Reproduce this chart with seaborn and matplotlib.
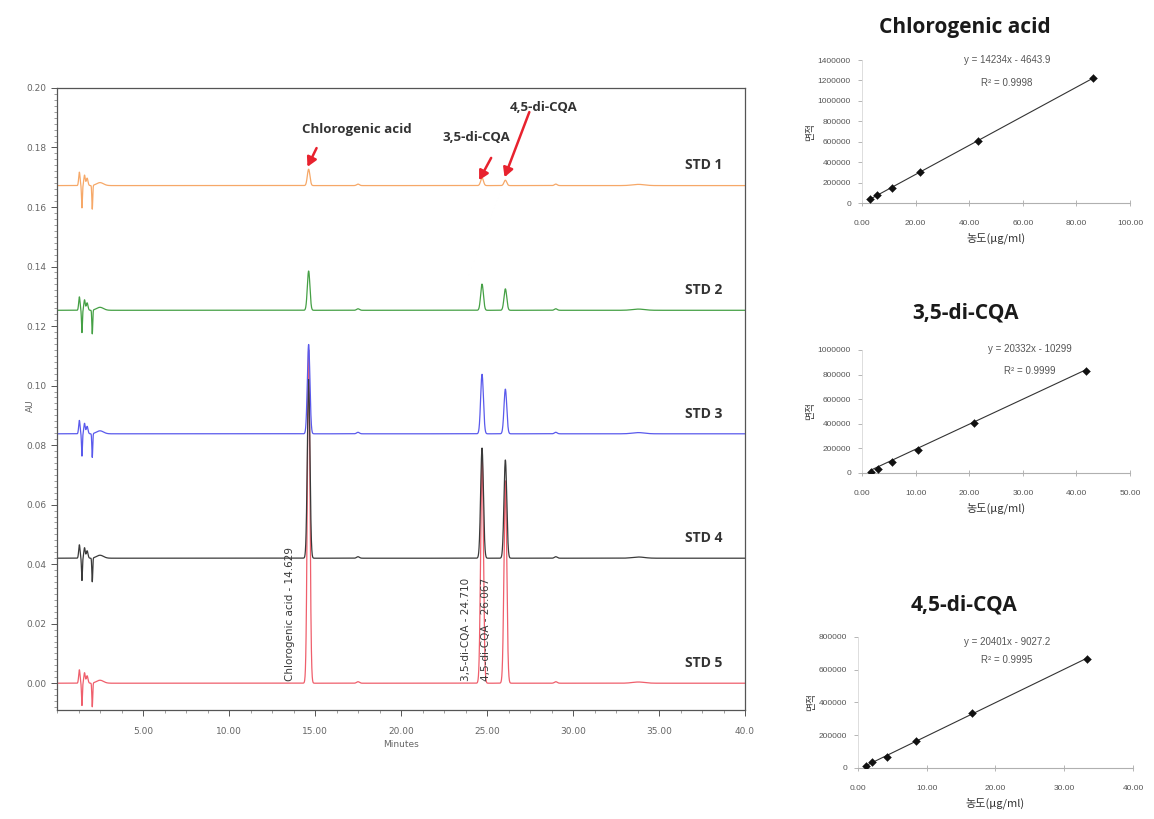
import numpy as np
import pandas as pd
import matplotlib
matplotlib.use("Agg")
import matplotlib.pyplot as plt
from matplotlib.ticker import MultipleLocator, FixedLocator
import seaborn as sns

# ---------------- chromatogram: peak tables ----------------
standards = ["STD 1", "STD 2", "STD 3", "STD 4", "STD 5"]
baselines = [0.1672, 0.1253, 0.0838, 0.0420, 0.0000]
trace_colors = ["#f6a868", "#45a045", "#5a5aec", "#3a3a3a", "#ef5f6c"]

compounds = ["Chlorogenic acid", "3,5-di-CQA", "4,5-di-CQA"]
retention_times = [14.629, 24.710, 26.067]
cga_heights = [0.0055, 0.0132, 0.0300, 0.0600, 0.1120]
dcqa35_heights = [0.0026, 0.0088, 0.0200, 0.0370, 0.0770]
dcqa45_heights = [0.0018, 0.0072, 0.0150, 0.0330, 0.0680]
peak_sigmas = [0.075, 0.080, 0.080]

# solvent front and small baseline features shared by every run
feature_times = [1.30, 1.45, 1.60, 1.75, 2.05, 2.50, 17.5, 29.0, 33.8]
feature_heights = [0.0045, -0.0075, 0.0035, 0.0025, -0.0080, 0.0010, 0.0005, 0.0005, 0.0004]
feature_sigmas = [0.04, 0.025, 0.04, 0.05, 0.025, 0.20, 0.08, 0.08, 0.35]

x_tick_values = [5, 10, 15, 20, 25, 30, 35, 40]
x_tick_labels = ["5.00", "10.00", "15.00", "20.00", "25.00", "30.00", "35.00", "40.0"]
y_tick_values = [0.00, 0.02, 0.04, 0.06, 0.08, 0.10, 0.12, 0.14, 0.16, 0.18, 0.20]

# ---------------- calibration curves ----------------
cga_conc = [2.8, 5.6, 11.1, 21.7, 43.3, 86.2]
cga_area = [35000, 75000, 150000, 305000, 612000, 1220000]
cga_fit = (14234, -4643.9, 0.9998)

dcqa35_conc = [1.6, 2.9, 5.6, 10.5, 20.8, 41.7]
dcqa35_area = [6000, 30000, 90000, 190000, 405000, 830000]
dcqa35_fit = (20332, -10299, 0.9999)

dcqa45_conc = [1.1, 2.1, 4.2, 8.4, 16.6, 33.3]
dcqa45_area = [14000, 35000, 67000, 163000, 338000, 668000]
dcqa45_fit = (20401, -9027.2, 0.9995)

sns.set_style("white")
plt.rcParams["font.family"] = ["DejaVu Sans"]
KR = ["Noto Sans CJK KR", "DejaVu Sans"]

fig = plt.figure(figsize=(11.54, 8.19), dpi=100)

# ================= chromatogram =================
ax = fig.add_axes([0.0494, 0.1331, 0.5962, 0.7595])
t = np.linspace(0, 40, 8001)
frames = []
peak_heights = list(zip(cga_heights, dcqa35_heights, dcqa45_heights))
for i, name in enumerate(standards):
    signal = np.full_like(t, baselines[i])
    for rt, h, s in zip(retention_times, peak_heights[i], peak_sigmas):
        signal += h * np.exp(-0.5 * ((t - rt) / s) ** 2)
    for ft, fh, fs in zip(feature_times, feature_heights, feature_sigmas):
        signal += fh * np.exp(-0.5 * ((t - ft) / fs) ** 2)
    frames.append(pd.DataFrame({"Minutes": t, "AU": signal, "run": name}))
chrom = pd.concat(frames, ignore_index=True)

sns.lineplot(data=chrom, x="Minutes", y="AU", hue="run",
             hue_order=standards[::-1],
             palette=dict(zip(standards, trace_colors)),
             estimator=None, sort=False, linewidth=0.9, legend=False, ax=ax)

ax.set_xlim(0, 40)
ax.set_ylim(-0.009, 0.20)
ax.set_xticks(x_tick_values)
ax.set_xticklabels(x_tick_labels)
ax.set_yticks(y_tick_values)
ax.set_yticklabels([f"{v:.2f}" for v in y_tick_values])
ax.xaxis.set_minor_locator(MultipleLocator(1.25))
ax.yaxis.set_minor_locator(MultipleLocator(0.002))
ax.tick_params(axis="both", which="major", labelsize=6.5, labelcolor="#666666",
               color="#555555", length=4, width=0.7, direction="out")
ax.tick_params(axis="both", which="minor", color="#777777", length=2, width=0.5,
               direction="out")
ax.tick_params(axis="x", which="major", pad=8)
ax.tick_params(axis="x", which="both", bottom=True)
ax.tick_params(axis="y", which="both", left=True)
for sp in ax.spines.values():
    sp.set_color("#555555")
    sp.set_linewidth(0.9)
ax.set_xlabel("Minutes", fontsize=6.5, color="#666666", labelpad=3)
ax.set_ylabel("AU", fontsize=6.5, color="#666666")
ax.yaxis.set_label_coords(-0.032, 0.49)

# run names
for i, name in enumerate(standards):
    ax.text(37.6, baselines[i] + 0.0068, name, ha="center", va="center",
            fontsize=10, fontweight="bold", family="Open Sans", color="#333333")

# retention-time labels on the last run
rt_label_x = [13.57, 23.78, 24.95]
for cname, rt, lx in zip(compounds, retention_times, rt_label_x):
    ax.text(lx, 0.0008, f"{cname} - {rt:.3f}", rotation=90, ha="center",
            va="bottom", fontsize=7.5, color="#3a3a3a")

# compound call-outs with red arrows
callouts = [
    ("Chlorogenic acid", (17.42, 0.1859), (15.09, 0.1798), (14.56, 0.1735)),
    ("3,5-di-CQA", (24.36, 0.1832), (25.24, 0.1765), (24.54, 0.1690)),
    ("4,5-di-CQA", (28.30, 0.1933), (27.46, 0.1919), (26.02, 0.1700)),
]
for label, txy, tail, head in callouts:
    ax.text(txy[0], txy[1], label, ha="center", va="center", fontsize=9.5,
            fontweight="bold", family="Open Sans", color="#333333")
    ax.annotate("", xy=head, xytext=tail,
                arrowprops=dict(arrowstyle="-|>,head_length=0.55,head_width=0.3",
                                color="#e8222e", lw=1.8, shrinkA=0, shrinkB=0))

# ================= calibration panels =================
panels = [
    dict(rect=[0.7470, 0.7521, 0.2322, 0.1746], conc=cga_conc, area=cga_area,
         fit=cga_fit, xmax=100, xstep=20, ymax=1400000, ystep=200000,
         title="Chlorogenic acid", title_y=27, eq_x=0.541, eq_y=1.0, r2_y=0.839),
    dict(rect=[0.7470, 0.4225, 0.2322, 0.1502], conc=dcqa35_conc, area=dcqa35_area,
         fit=dcqa35_fit, xmax=50, xstep=10, ymax=1000000, ystep=200000,
         title="3,5-di-CQA", title_y=313, eq_x=0.627, eq_y=1.008, r2_y=0.829),
    dict(rect=[0.7435, 0.0623, 0.2383, 0.1600], conc=dcqa45_conc, area=dcqa45_area,
         fit=dcqa45_fit, xmax=40, xstep=10, ymax=800000, ystep=200000,
         title="4,5-di-CQA", title_y=605, eq_x=0.542, eq_y=0.962, r2_y=0.824),
]

for p in panels:
    cax = fig.add_axes(p["rect"])
    slope, intercept, r2 = p["fit"]
    xfit = np.array([p["conc"][0], p["conc"][-1]])
    sns.lineplot(x=xfit, y=slope * xfit + intercept, color="#333333",
                 linewidth=0.8, ax=cax)
    sns.scatterplot(x=p["conc"], y=p["area"], marker="D", s=16, color="#111111",
                    edgecolor="#111111", linewidth=0.3, ax=cax, zorder=3)
    cax.set_xlim(0, p["xmax"])
    cax.set_ylim(0, p["ymax"])
    xt = np.arange(0, p["xmax"] + 0.1, p["xstep"])
    yt = np.arange(0, p["ymax"] + 1, p["ystep"])
    cax.xaxis.set_major_locator(FixedLocator(xt))
    cax.yaxis.set_major_locator(FixedLocator(yt))
    cax.set_xticklabels([f"{v:.2f}" for v in xt])
    cax.set_yticklabels([f"{int(v)}" for v in yt])
    cax.tick_params(axis="x", labelsize=6, labelcolor="#555555", color="#aaaaaa",
                    length=5, width=0.6, direction="inout", pad=10, bottom=True)
    cax.tick_params(axis="y", labelsize=6, labelcolor="#555555", color="#aaaaaa",
                    length=3, width=0.6, direction="out", pad=5, left=True)
    for lab in cax.get_xticklabels() + cax.get_yticklabels():
        lab.set_family("Liberation Sans")
    for side in ["top", "right"]:
        cax.spines[side].set_visible(False)
    cax.spines["bottom"].set_color("#b0b0b0")
    cax.spines["bottom"].set_linewidth(0.8)
    cax.spines["left"].set_color("#d8d8d8")
    cax.spines["left"].set_linewidth(0.6)
    cax.set_xlabel("농도(μg/ml)", family=KR, fontsize=8, color="#333333", labelpad=4)
    cax.set_ylabel("면적", family=KR, fontsize=7, color="#333333", labelpad=2)
    cax.text(p["eq_x"], p["eq_y"], f"y = {slope}x - {abs(intercept):g}",
             transform=cax.transAxes, ha="center", va="center", fontsize=7,
             family="Liberation Sans", color="#555555")
    cax.text(p["eq_x"], p["r2_y"], f"R² = {r2:.4f}", transform=cax.transAxes,
             ha="center", va="center", fontsize=7, family="Liberation Sans",
             color="#555555")
    cx = p["rect"][0] + p["rect"][2] * 0.385
    fig.text(cx, 1 - p["title_y"] / 819, p["title"], ha="center", va="center",
             fontsize=15, fontweight="bold", family="Open Sans", color="#1a1a1a")

fig.savefig("out.png", dpi=100, facecolor="white")
